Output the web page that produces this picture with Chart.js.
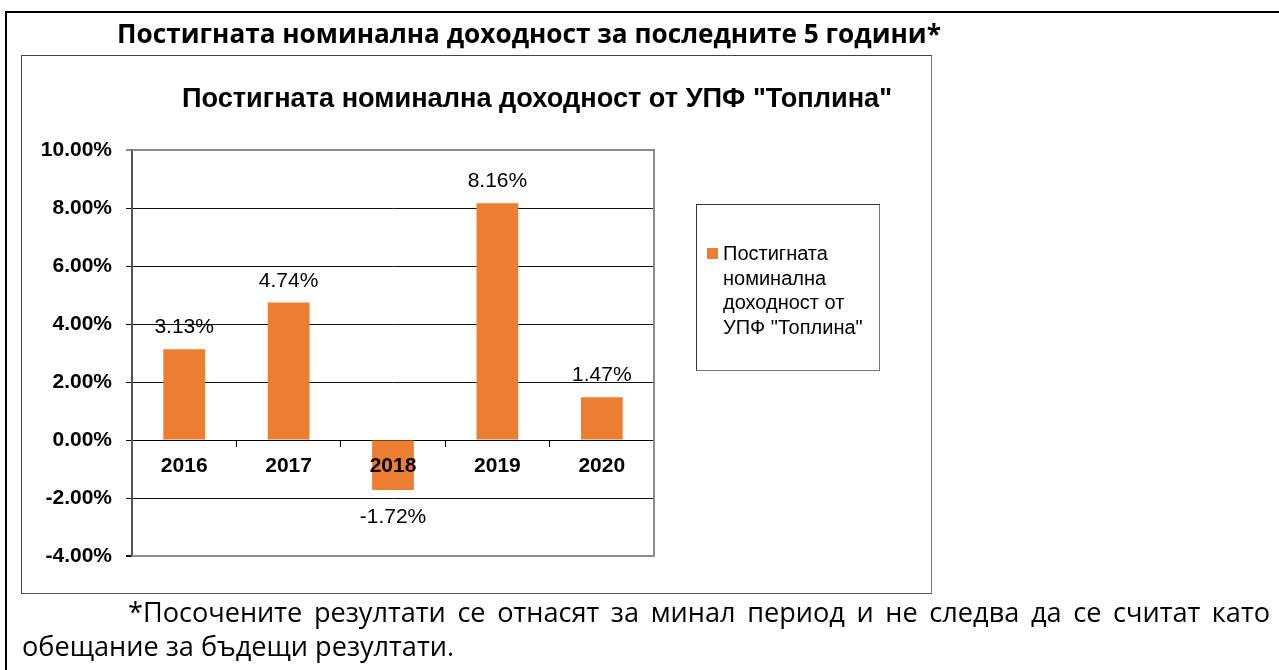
<!DOCTYPE html>
<html><head><meta charset="utf-8">
<script src="https://cdn.jsdelivr.net/npm/chart.js@4.4.0/dist/chart.umd.min.js"></script>
<style>
body{margin:0;background:#fff;width:1279px;height:670px;overflow:hidden;position:relative;font-family:"Liberation Sans",Arial,sans-serif}
#outer{position:absolute;left:5px;top:11px;width:1300px;height:700px;border-left:2px solid #000;border-top:2px solid #000}
#box{position:absolute;left:21px;top:55px;width:909px;height:537px;border:1px solid #444;border-right-color:#777;border-bottom-color:#555}
#c{position:absolute;left:0;top:0}
.fit{display:inline-block;white-space:nowrap}
#pageTitle{position:absolute;left:0;top:16px;width:1058px;text-align:center;font-family:"Open Sans";font-weight:bold;font-size:24px;line-height:34px;color:#000}
#chartTitle{position:absolute;left:0;top:84px;width:1074px;text-align:center;font-family:"Liberation Sans";font-weight:bold;font-size:22px;line-height:28px;color:#000}
#legend{position:absolute;left:696px;top:204px;width:182px;height:165px;border:1px solid #333;border-right-color:#777;border-bottom-color:#777;background:#fff}
#legSw{position:absolute;left:10px;top:43px;width:11px;height:11px}
#legTx{position:absolute;left:26px;top:36px;width:158px;font-family:"Liberation Sans";font-size:20px;line-height:24.5px;color:#000}
#fn1{position:absolute;left:128px;top:595px;width:1142px;text-align:justify;text-align-last:justify;font-family:"Open Sans";font-size:22px;line-height:34px;color:#000;white-space:nowrap}
#fn2{position:absolute;left:22px;top:629px;font-family:"Open Sans";font-size:22px;line-height:34px;color:#000}
</style></head>
<body>
<div id="outer"></div>
<div id="box"></div>
<canvas id="c" width="1279" height="670"></canvas>
<div id="pageTitle"><span class="fit" id="pageTitleTx"></span></div>
<div id="chartTitle"><span class="fit" id="chartTitleTx"></span></div>
<div id="legend"><div id="legSw"></div><div id="legTx"></div></div>
<div id="fn1"></div>
<div id="fn2"><span class="fit" id="fn2Tx"></span></div>
<script>
const categories = ['2016', '2017', '2018', '2019', '2020'];
const values = [3.13, 4.74, -1.72, 8.16, 1.47];
const yTicks = [-4, -2, 0, 2, 4, 6, 8, 10];
const seriesName = 'Постигната номинална доходност от УПФ "Топлина"';
const chartTitle = 'Постигната номинална доходност от УПФ "Топлина"';
const pageTitle = 'Постигната номинална доходност за последните 5 години*';
const footnote1 = '*Посочените резултати се отнасят за минал период и не следва да се считат като';
const footnote2 = 'обещание за бъдещи резултати.';

function fit(el, target){
  for(let i=0;i<3;i++){
    const w = el.getBoundingClientRect().width;
    const s = parseFloat(getComputedStyle(el).fontSize);
    el.style.fontSize = (s*target/w)+'px';
  }
}
document.getElementById('pageTitleTx').textContent = pageTitle;
document.getElementById('chartTitleTx').textContent = chartTitle;
document.getElementById('fn1').textContent = footnote1;
document.getElementById('fn2Tx').textContent = footnote2;
fit(document.getElementById('pageTitleTx'), 824);
fit(document.getElementById('chartTitleTx'), 710);
fit(document.getElementById('fn2Tx'), 432);
document.getElementById('fn1').style.fontSize = getComputedStyle(document.getElementById('fn2Tx')).fontSize;
document.getElementById('fn1').style.whiteSpace = 'normal';

const BAR = '#ED7D31';
const valueLabels = {
  id: 'valueLabels',
  afterDatasetsDraw(chart){
    const ctx = chart.ctx;
    const meta = chart.getDatasetMeta(0);
    const data = chart.data.datasets[0].data;
    ctx.save();
    ctx.font = '21px "Liberation Sans"';
    ctx.fillStyle = '#000';
    ctx.textAlign = 'center';
    ctx.textBaseline = 'alphabetic';
    meta.data.forEach((bar, i) => {
      const v = data[i];
      const t = v.toFixed(2) + '%';
      if (v >= 0) ctx.fillText(t, bar.x, bar.y - 16);
      else ctx.fillText(t, bar.x, bar.y + 33);
    });
    ctx.restore();
  }
};
const frame = {
  id: 'frame',
  beforeDatasetsDraw(chart){
    const a = chart.chartArea, ctx = chart.ctx;
    ctx.save();
    ctx.strokeStyle = '#8c8c8c';
    ctx.lineWidth = 2;
    ctx.beginPath();
    ctx.moveTo(a.left, a.top); ctx.lineTo(a.right, a.top); ctx.lineTo(a.right, a.bottom); ctx.lineTo(a.left, a.bottom);
    ctx.stroke();
    ctx.restore();
  }
};

const chart = new Chart(document.getElementById('c'), {
  type: 'bar',
  data: {
    labels: categories,
    datasets: [{
      label: seriesName,
      data: values,
      backgroundColor: BAR,
      borderWidth: 0,
      categoryPercentage: 1,
      barPercentage: 0.4
    }]
  },
  options: {
    responsive: false,
    devicePixelRatio: 1,
    animation: false,
    layout: { padding: { left: 20, right: 625, top: 150, bottom: 114 } },
    plugins: { legend: { display: false }, title: { display: false }, tooltip: { enabled: false } },
    scales: {
      x: {
        type: 'category',
        position: { y: 0 },
        grid: { drawOnChartArea: false, offset: true, tickLength: 6, color: '#000', lineWidth: 1 },
        border: { color: '#000', width: 1 },
        ticks: { z: 1, color: '#000', font: { family: 'Liberation Sans', size: 21, weight: 'bold' }, padding: 8, maxRotation: 0 }
      },
      y: {
        min: yTicks[0],
        max: yTicks[yTicks.length - 1],
        afterBuildTicks: s => { s.ticks = yTicks.map(v => ({ value: v })); },
        afterFit: s => { s.width = 112; },
        grid: {
          color: c => (c.tick && c.tick.value === yTicks[yTicks.length - 1]) ? '#8c8c8c' : '#111',
          lineWidth: c => (c.tick && (c.tick.value === yTicks[yTicks.length - 1] || c.tick.value === yTicks[0])) ? 2 : 1,
          tickLength: 6
        },
        border: { color: '#555', width: 2 },
        ticks: {
          color: '#000',
          font: { family: 'Liberation Sans', size: 21, weight: 'bold' },
          padding: 14,
          callback: v => Number(v).toFixed(2) + '%'
        }
      }
    }
  },
  plugins: [frame, valueLabels]
});

const ds = chart.data.datasets[0];
document.getElementById('legSw').style.background = ds.backgroundColor;
document.getElementById('legTx').textContent = ds.label;
</script>
</body></html>
